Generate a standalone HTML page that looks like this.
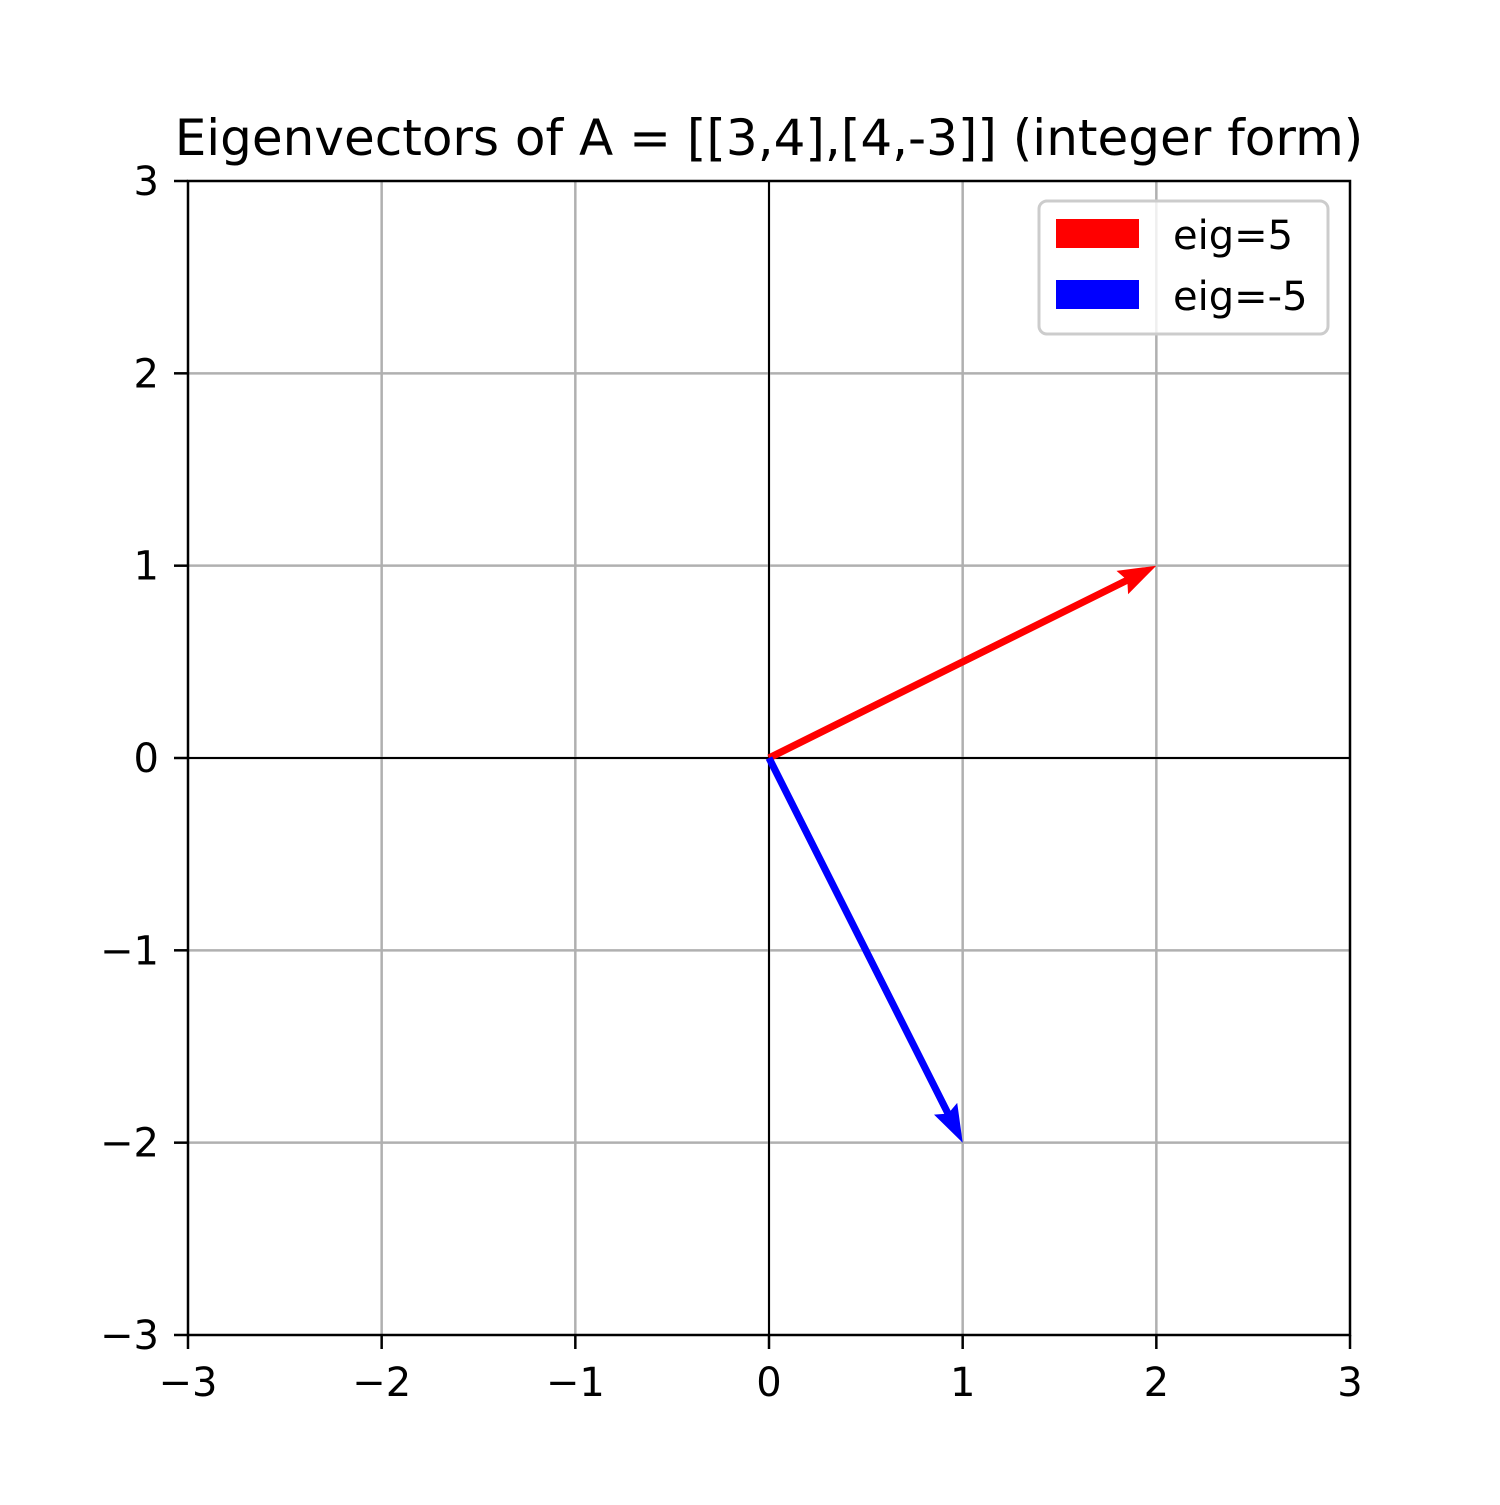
<!DOCTYPE html>
<html><head><meta charset="utf-8"><style>
body{margin:0;background:#fff}
text{font-family:"DejaVu Sans","Liberation Sans",sans-serif;fill:#000}
</style></head><body>
<svg id="chart" width="1500" height="1500" viewBox="0 0 1500 1500" xmlns="http://www.w3.org/2000/svg">
<rect width="1500" height="1500" fill="#fff"/>
<text x="769" y="155" font-size="50" text-anchor="middle">Eigenvectors of A = [[3,4],[4,-3]] (integer form)</text>
<g id="grid"></g>
<g id="ticks"></g>
<g id="vectors"></g>
<rect x="188" y="181" width="1162" height="1154" fill="none" stroke="#000" stroke-width="2.5"/>
<g>
<rect x="1039" y="201" width="289" height="133" rx="8" fill="#fff" fill-opacity="0.8" stroke="#ccc" stroke-width="3"/>
<rect x="1056" y="219" width="83" height="29" fill="#ff0000"/>
<text x="1173" y="249" font-size="40">eig=5</text>
<rect x="1056" y="280" width="83" height="29" fill="#0000ff"/>
<text x="1173" y="310" font-size="40">eig=-5</text>
</g>
</svg>
<script>
const ticks=[-3,-2,-1,0,1,2,3];
const tickLabels=["\u22123","\u22122","\u22121","0","1","2","3"];
const vecX=[2,1];
const vecY=[1,-2];
const vecColors=["#ff0000","#0000ff"];
const vecNames=["eig5","eig-5"];
const NS="http://www.w3.org/2000/svg";
const X=v=>769+v*193.67, Y=v=>758-v*192.33;
function mk(t,a,p){const e=document.createElementNS(NS,t);for(const k in a)e.setAttribute(k,a[k]);p.appendChild(e);return e;}
const g=document.getElementById('grid'),tk=document.getElementById('ticks'),vg=document.getElementById('vectors');
ticks.forEach((t,i)=>{
 if(t!==-3&&t!==3){
  const l1=mk('line',{x1:X(t),x2:X(t),y1:181,y2:1335,stroke:'#b0b0b0','stroke-width':2.5},g);
  
  
  const l2=mk('line',{y1:Y(t),y2:Y(t),x1:188,x2:1350,stroke:'#b0b0b0','stroke-width':2.5},g);
  
  
 }
 mk('line',{x1:X(t),x2:X(t),y1:1335,y2:1349,stroke:'#000','stroke-width':2.5},tk);
 mk('line',{x1:174,x2:188,y1:Y(t),y2:Y(t),stroke:'#000','stroke-width':2.5},tk);
 const tx=mk('text',{x:X(t),y:1396,'font-size':40,'text-anchor':'middle'},tk);tx.textContent=tickLabels[i];
 
 
 const ty=mk('text',{x:159,y:Y(t)+14,'font-size':40,'text-anchor':'end'},tk);ty.textContent=tickLabels[i];
 
 
});
const a0=mk('line',{x1:188,x2:1350,y1:Y(0),y2:Y(0),stroke:'#000','stroke-width':2},g);


const a1=mk('line',{x1:X(0),x2:X(0),y1:181,y2:1335,stroke:'#000','stroke-width':2},g);


vecX.forEach((vx,i)=>{
 const x0=X(0),y0=Y(0),x1=X(vx),y1=Y(vecY[i]);
 const dx=x1-x0,dy=y1-y0,L=Math.hypot(dx,dy),ux=dx/L,uy=dy/L,nx=-uy,ny=ux;
 const h=3.6,hl=38,hal=34,hw=13;
 const P=(a,b)=>[x0+ux*a+nx*b,y0+uy*a+ny*b].map(v=>v.toFixed(1)).join(',');
 const pts=[P(0,-h),P(L-hal,-h),P(L-hl,-hw),P(L,0),P(L-hl,hw),P(L-hal,h),P(0,h)].join(' ');
 const p=mk('polygon',{points:pts,fill:vecColors[i]},vg);
 
 
});
</script>
</body></html>
